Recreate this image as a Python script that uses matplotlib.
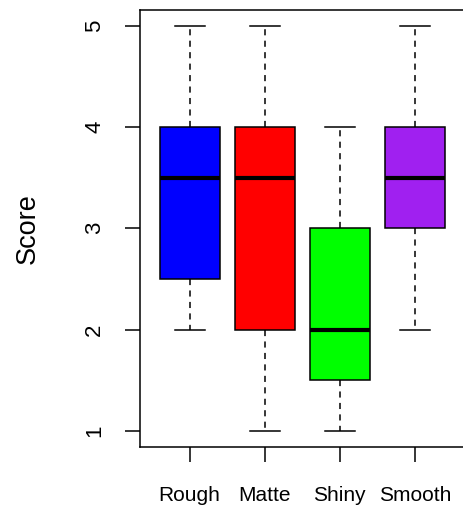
import matplotlib
matplotlib.use("Agg")
import matplotlib.pyplot as plt

categories = ["Rough", "Matte", "Shiny", "Smooth"]
whisker_low = [2, 1, 1, 2]
q1 = [2.5, 2, 1.5, 3]
median = [3.5, 3.5, 2, 3.5]
q3 = [4, 4, 3, 4]
whisker_high = [5, 5, 4, 5]
colors = ["#0000FF", "#FF0000", "#00FF00", "#A020F0"]
yticks = [1, 2, 3, 4, 5]

plt.rcParams["font.family"] = ["Liberation Sans", "DejaVu Sans"]

fig = plt.figure(figsize=(4.63, 5.12), dpi=100)
W, H = 463, 512
left, right, top, bottom = 140, 464.5, 9.5, 447
ax = fig.add_axes([left / W, 1 - bottom / H, (right - left) / W, (bottom - top) / H])

stats = []
for i, c in enumerate(categories):
    stats.append(dict(label=c, whislo=whisker_low[i], q1=q1[i], med=median[i],
                      q3=q3[i], whishi=whisker_high[i], fliers=[]))

bp = ax.bxp(stats, positions=range(1, len(categories) + 1), widths=0.8,
            capwidths=0.4, patch_artist=True, showfliers=False,
            boxprops=dict(edgecolor="black", linewidth=1.1),
            medianprops=dict(color="black", linewidth=3, solid_capstyle="butt"),
            whiskerprops=dict(color="black", linewidth=1.1, linestyle=(0, (4, 3.5))),
            capprops=dict(color="black", linewidth=1.1))
for patch, col in zip(bp["boxes"], colors):
    patch.set_facecolor(col)

ax.set_xlim(0.34, 4.66)
ax.set_ylim(0.84, 5.16)
ax.set_yticks(yticks)
ax.set_yticklabels([str(v) for v in yticks], rotation=90, va="center")
ax.set_xticks(range(1, len(categories) + 1))
ax.set_xticklabels(categories)
ax.tick_params(axis="both", length=11, width=1.1, color="black")
ax.tick_params(axis="x", labelsize=15, pad=17)
ax.tick_params(axis="y", labelsize=16, pad=14)
for s in ax.spines.values():
    s.set_linewidth(1.1)

ax.set_ylabel("Score", fontsize=19.5, va="center")
ax.yaxis.set_label_coords((28 - left) / (right - left), 0.5)

fig.savefig("out.png", dpi=100)
